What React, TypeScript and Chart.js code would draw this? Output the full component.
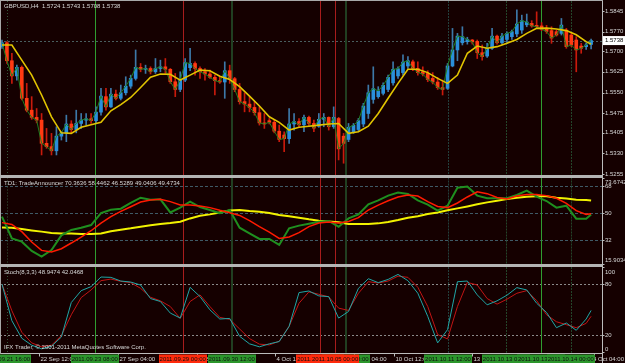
import React, { useEffect, useRef } from 'react';
import { Chart, registerables } from 'chart.js';

Chart.register(...registerables);

// ---------- price data (GBPUSD H4), one value per bar ----------
const OPEN = [
  1.5716, 1.5730, 1.5665, 1.5610, 1.5641, 1.5529, 1.5486, 1.5460, 1.5450, 1.5366,
  1.5354, 1.5339, 1.5392, 1.5404, 1.5436, 1.5416, 1.5438, 1.5450, 1.5455, 1.5448,
  1.5479, 1.5535, 1.5498, 1.5544, 1.5529, 1.5549, 1.5573, 1.5601, 1.5641, 1.5634,
  1.5637, 1.5625, 1.5637, 1.5643, 1.5634, 1.5589, 1.5561, 1.5595, 1.5640, 1.5655,
  1.5637, 1.5625, 1.5617, 1.5605, 1.5593, 1.5588, 1.5629, 1.5600, 1.5561, 1.5517,
  1.5508, 1.5496, 1.5477, 1.5440, 1.5448, 1.5442, 1.5410, 1.5396, 1.5383, 1.5436,
  1.5445, 1.5433, 1.5460, 1.5438, 1.5428, 1.5453, 1.5460, 1.5426, 1.5456, 1.5392,
  1.5380, 1.5408, 1.5416, 1.5436, 1.5474, 1.5525, 1.5535, 1.5547, 1.5561, 1.5585,
  1.5610, 1.5622, 1.5646, 1.5661, 1.5637, 1.5625, 1.5619, 1.5601, 1.5588, 1.5568,
  1.5565, 1.5646, 1.5704, 1.5730, 1.5734, 1.5740, 1.5735, 1.5694, 1.5682, 1.5710,
  1.5754, 1.5730, 1.5742, 1.5752, 1.5762, 1.5776, 1.5795, 1.5800, 1.5793, 1.5791,
  1.5781, 1.5774, 1.5770, 1.5764, 1.5776, 1.5758, 1.5740, 1.5718, 1.5716, 1.5724,
];
const HIGH = [
  1.5740, 1.5734, 1.5692, 1.5649, 1.5646, 1.5583, 1.5535, 1.5492, 1.5474, 1.5420,
  1.5402, 1.5426, 1.5408, 1.5468, 1.5448, 1.5486, 1.5474, 1.5474, 1.5474, 1.5498,
  1.5565, 1.5565, 1.5565, 1.5559, 1.5577, 1.5607, 1.5613, 1.5704, 1.5655, 1.5649,
  1.5643, 1.5673, 1.5667, 1.5673, 1.5637, 1.5619, 1.5625, 1.5673, 1.5710, 1.5661,
  1.5643, 1.5637, 1.5631, 1.5613, 1.5607, 1.5661, 1.5649, 1.5605, 1.5583, 1.5549,
  1.5535, 1.5517, 1.5498, 1.5474, 1.5456, 1.5450, 1.5432, 1.5408, 1.5492, 1.5474,
  1.5456, 1.5468, 1.5465, 1.5450, 1.5474, 1.5474, 1.5462, 1.5498, 1.5460, 1.5402,
  1.5438, 1.5438, 1.5456, 1.5511, 1.5577, 1.5643, 1.5571, 1.5585, 1.5613, 1.5661,
  1.5643, 1.5686, 1.5680, 1.5667, 1.5661, 1.5643, 1.5629, 1.5622, 1.5605, 1.5595,
  1.5655, 1.5782, 1.5764, 1.5788, 1.5750, 1.5742, 1.5740, 1.5722, 1.5728, 1.5782,
  1.5758, 1.5764, 1.5770, 1.5776, 1.5849, 1.5830, 1.5834, 1.5810, 1.5842, 1.5803,
  1.5793, 1.5788, 1.5776, 1.5818, 1.5782, 1.5764, 1.5752, 1.5728, 1.5730, 1.5743,
];
const LOW = [
  1.5710, 1.5655, 1.5583, 1.5595, 1.5523, 1.5480, 1.5453, 1.5440, 1.5324, 1.5348,
  1.5324, 1.5324, 1.5378, 1.5372, 1.5404, 1.5404, 1.5420, 1.5432, 1.5438, 1.5438,
  1.5468, 1.5486, 1.5496, 1.5523, 1.5523, 1.5541, 1.5565, 1.5595, 1.5625, 1.5619,
  1.5617, 1.5619, 1.5625, 1.5619, 1.5583, 1.5535, 1.5553, 1.5589, 1.5629, 1.5613,
  1.5601, 1.5595, 1.5601, 1.5541, 1.5583, 1.5529, 1.5583, 1.5553, 1.5508, 1.5480,
  1.5480, 1.5468, 1.5432, 1.5420, 1.5436, 1.5404, 1.5372, 1.5336, 1.5366, 1.5414,
  1.5426, 1.5408, 1.5428, 1.5408, 1.5424, 1.5426, 1.5414, 1.5420, 1.5306, 1.5294,
  1.5372, 1.5402, 1.5408, 1.5426, 1.5456, 1.5511, 1.5529, 1.5541, 1.5553, 1.5577,
  1.5601, 1.5613, 1.5637, 1.5629, 1.5613, 1.5610, 1.5589, 1.5581, 1.5561, 1.5541,
  1.5561, 1.5643, 1.5665, 1.5722, 1.5725, 1.5725, 1.5673, 1.5667, 1.5677, 1.5706,
  1.5725, 1.5725, 1.5728, 1.5742, 1.5752, 1.5764, 1.5788, 1.5786, 1.5782, 1.5774,
  1.5764, 1.5728, 1.5754, 1.5758, 1.5710, 1.5716, 1.5625, 1.5692, 1.5706, 1.5708,
];
const CLOSE = [
  1.5730, 1.5665, 1.5610, 1.5641, 1.5529, 1.5486, 1.5460, 1.5450, 1.5366, 1.5354,
  1.5339, 1.5392, 1.5404, 1.5436, 1.5416, 1.5438, 1.5450, 1.5455, 1.5448, 1.5479,
  1.5537, 1.5498, 1.5544, 1.5529, 1.5549, 1.5573, 1.5601, 1.5641, 1.5634, 1.5637,
  1.5625, 1.5637, 1.5643, 1.5634, 1.5589, 1.5561, 1.5595, 1.5658, 1.5655, 1.5637,
  1.5625, 1.5617, 1.5605, 1.5593, 1.5588, 1.5629, 1.5600, 1.5561, 1.5517, 1.5508,
  1.5496, 1.5477, 1.5440, 1.5436, 1.5442, 1.5410, 1.5380, 1.5383, 1.5436, 1.5445,
  1.5433, 1.5460, 1.5438, 1.5421, 1.5453, 1.5460, 1.5426, 1.5460, 1.5346, 1.5366,
  1.5424, 1.5431, 1.5448, 1.5501, 1.5549, 1.5564, 1.5556, 1.5576, 1.5605, 1.5634,
  1.5636, 1.5660, 1.5665, 1.5637, 1.5622, 1.5617, 1.5597, 1.5588, 1.5568, 1.5561,
  1.5646, 1.5704, 1.5754, 1.5752, 1.5742, 1.5733, 1.5694, 1.5680, 1.5710, 1.5754,
  1.5730, 1.5754, 1.5764, 1.5770, 1.5798, 1.5810, 1.5805, 1.5791, 1.5788, 1.5779,
  1.5771, 1.5747, 1.5758, 1.5794, 1.5716, 1.5722, 1.5704, 1.5710, 1.5722, 1.5738,
];

// ---------- indicator lines, read every second bar ----------
const SAMPLE_X = [
  0, 2, 4, 6, 8, 10, 12, 14, 16, 18, 20, 22, 24, 26, 28, 30, 32, 34, 36, 38,
  40, 42, 44, 46, 48, 50, 52, 54, 56, 58, 60, 62, 64, 66, 68, 70, 72, 74, 76, 78,
  80, 82, 84, 86, 88, 90, 92, 94, 96, 98, 100, 102, 104, 106, 108, 110, 112, 114, 116, 118, 119,
];
const MA = [
  1.5722, 1.5722, 1.5667, 1.5613, 1.5541, 1.5462, 1.5404, 1.5402, 1.5424, 1.5433,
  1.5442, 1.5484, 1.5506, 1.5532, 1.5568, 1.5605, 1.5617, 1.5616, 1.5595, 1.5613,
  1.5631, 1.5629, 1.5609, 1.5597, 1.5571, 1.5537, 1.5501, 1.5462, 1.5442, 1.5414,
  1.5424, 1.5428, 1.5432, 1.5436, 1.5438, 1.5402, 1.5408, 1.5428, 1.5474, 1.5529,
  1.5583, 1.5634, 1.5634, 1.5622, 1.5601, 1.5583, 1.5613, 1.5692, 1.5718, 1.5710,
  1.5716, 1.5728, 1.5742, 1.5764, 1.5782, 1.5783, 1.5780, 1.5774, 1.5759, 1.5734, 1.5725,
];
const TD_GREEN = [
  47.6, 33.1, 30.9, 24.7, 20.9, 25.3, 35.1, 38.7, 40.2, 42.0,
  50.0, 52.2, 52.9, 56.7, 60.2, 58.9, 59.1, 50.4, 53.6, 57.6,
  54.0, 52.0, 49.8, 52.0, 40.2, 36.4, 32.7, 32.7, 28.7, 39.8,
  41.6, 42.9, 44.2, 44.7, 40.9, 46.4, 49.1, 55.8, 58.4, 61.6,
  63.6, 62.7, 58.4, 55.6, 51.6, 54.9, 66.9, 67.6, 61.6, 59.8,
  59.8, 59.8, 62.0, 64.9, 60.9, 58.0, 53.6, 54.9, 46.2, 46.2, 49.0,
];
const TD_RED = [
  43.6, 42.4, 37.6, 30.7, 25.1, 24.0, 26.2, 30.0, 34.0, 38.2,
  43.3, 47.6, 51.1, 54.2, 57.3, 58.7, 59.1, 57.6, 55.3, 55.3,
  54.7, 53.6, 51.8, 50.2, 48.4, 44.9, 40.9, 37.3, 33.1, 34.0,
  36.9, 40.9, 43.3, 44.0, 43.3, 44.4, 46.9, 52.0, 55.3, 58.2,
  60.7, 62.0, 61.3, 57.6, 54.4, 53.6, 56.7, 60.7, 64.2, 62.9,
  60.4, 59.3, 61.3, 62.4, 62.4, 61.6, 59.8, 56.4, 51.6, 49.1, 49.5,
];
const TD_YELLOW = [
  40.4, 40.2, 39.3, 38.4, 37.6, 36.7, 36.4, 36.4, 36.0, 36.0,
  36.4, 37.8, 38.9, 39.8, 40.9, 41.8, 42.7, 43.3, 44.2, 46.4,
  48.2, 49.1, 50.4, 51.6, 52.0, 51.3, 50.9, 50.0, 48.7, 47.8,
  46.9, 45.8, 44.9, 44.4, 43.8, 42.7, 42.7, 42.7, 43.1, 44.0,
  45.3, 46.9, 47.8, 49.3, 50.4, 51.8, 53.1, 54.4, 55.8, 57.1,
  58.2, 59.3, 60.2, 60.9, 61.1, 61.1, 60.2, 59.6, 58.9, 58.7, 58.4,
];
const ST_MAIN = [
  80.0, 36.8, 16.2, 8.0, 3.7, 6.8, 17.7, 58.2, 72.2, 76.9,
  88.2, 87.8, 83.5, 82.3, 78.8, 62.9, 59.4, 45.8, 39.9, 76.1,
  65.2, 49.6, 38.8, 39.5, 18.5, 9.6, 6.1, 9.6, 12.3, 30.2,
  69.9, 71.8, 66.0, 65.2, 39.9, 47.7, 74.9, 86.2, 81.6, 85.4,
  91.3, 83.9, 69.1, 41.9, 10.7, 26.3, 82.7, 83.5, 67.2, 55.5,
  60.2, 66.8, 75.7, 73.0, 57.4, 46.5, 28.6, 34.1, 25.5, 38.8, 48.9,
];
const ST_SIGNAL = [
  80.0, 48.5, 23.2, 10.7, 6.1, 8.0, 19.3, 43.8, 64.0, 73.0,
  83.9, 85.8, 83.1, 81.6, 74.9, 64.4, 60.2, 53.5, 39.5, 59.4,
  67.2, 53.5, 40.7, 38.4, 27.1, 15.8, 9.2, 8.4, 12.7, 30.2,
  57.4, 70.7, 67.9, 64.8, 51.6, 48.9, 69.1, 82.7, 81.2, 83.5,
  89.3, 87.8, 76.1, 53.5, 20.5, 15.4, 53.5, 81.9, 78.8, 62.9,
  56.3, 62.1, 69.1, 72.2, 60.5, 43.8, 35.6, 32.1, 28.6, 33.7, 42.0,
];

// ---------- axes ----------
const PRICE_TICKS = [1.5845, 1.577, 1.57, 1.5625, 1.555, 1.5475, 1.5405, 1.533, 1.5255];
const TD_TICKS = [73.6742, 68, 50, 32, 15.9034];
const TD_LEVELS = [68, 50, 32];
const ST_TICKS = [100, 80, 20, 0];
const ST_LEVELS = [80, 20];
const TIME_POS = [7.46, 23.4, 39.3, 55.2, 71.2, 79.2, 95.0, 119.6];
const TIME_LABELS = ['22 Sep 12:00', '27 Sep 04:00', '29 Sep 20:00', '4 Oct 12:00', '7 Oct 04:00', '10 Oct 12:00', '13 Oct 04:00', '14 Oct 04:00'];

// vertical line objects (bar position, kind, time)
const VLINE_POS = [1.0, 18.75, 36.5, 46.4, 69.4, 64.3, 67.3, 90.1, 101.8, 108.9, 114.9];
const VLINE_KIND = ['dotted', 'green', 'red', 'dark', 'dark', 'red', 'red', 'slate', 'darkdot', 'green', 'darkdot'];
const VLINE_TIME = [
  '2011.09.21 16:00', '2011.09.23 08:00', '2011.09.29 00:00', '2011.09.30 12:00', '2011.10.05 08:00',
  '2011.10.04 20:00', '2011.10.05 00:00', '2011.10.11 12:00', '2011.10.13 04:00', '2011.10.13 16:00', '2011.10.14 00:00',
];

const X_MIN = -0.4;
const X_MAX = 121.2;
const BG = '#150000';
const TEXT = '#d8d8d8';
const AXIS = '#bcbcbc';
const FONT = '6px "Liberation Sans", Arial, sans-serif';

const VSTYLE: any = {
  dotted: { color: '#34563a', width: 1, dash: [1, 2], box: '#2c962c' },
  green: { color: '#2f9d2f', width: 1, dash: [], box: '#2c962c' },
  red: { color: '#a81c1c', width: 1, dash: [], box: '#ff2a0c' },
  dark: { color: '#213f21', width: 2, dash: [], box: '#2c962c' },
  darkdot: { color: '#24452a', width: 1, dash: [2, 1], box: '#2c962c' },
  slate: { color: '#23403d', width: 1, dash: [2, 1], box: '#2c962c' },
};

function drawVLines(chart: any) {
  const { ctx, chartArea: a, scales } = chart;
  const x = scales.x;
  ctx.save();
  VLINE_POS.forEach((p, k) => {
    const st = VSTYLE[VLINE_KIND[k]];
    const px = Math.round(x.getPixelForValue(p)) + (st.width % 2 ? 0.5 : 0);
    ctx.strokeStyle = st.color;
    ctx.lineWidth = st.width;
    ctx.setLineDash(st.dash);
    ctx.beginPath();
    ctx.moveTo(px, a.top);
    ctx.lineTo(px, a.bottom);
    ctx.stroke();
  });
  ctx.restore();
}

function panePlugin(cfg: any) {
  return {
    id: 'pane',
    beforeDatasetsDraw(chart: any) {
      const { ctx, chartArea: a, scales } = chart;
      const y = scales.y;
      ctx.save();
      ctx.beginPath();
      ctx.rect(a.left, a.top, a.right - a.left, a.bottom - a.top);
      ctx.clip();
      ctx.lineWidth = 1;
      ctx.setLineDash(cfg.levelDash);
      ctx.strokeStyle = cfg.levelColor;
      const lines = cfg.levels.slice();
      if (cfg.bid !== undefined) lines.push(cfg.bid);
      lines.forEach((v: number) => {
        const py = Math.round(y.getPixelForValue(v)) + 0.5;
        ctx.beginPath();
        ctx.moveTo(a.left, py);
        ctx.lineTo(a.right, py);
        ctx.stroke();
      });
      ctx.restore();
      drawVLines(chart);
    },
    afterDraw(chart: any) {
      const { ctx, chartArea: a, scales } = chart;
      const y = scales.y;
      const x = scales.x;
      ctx.save();
      const ax = Math.round(a.right) + 0.5;
      ctx.strokeStyle = AXIS;
      ctx.lineWidth = 1;
      ctx.setLineDash([]);
      ctx.beginPath();
      ctx.moveTo(ax, 0);
      ctx.lineTo(ax, chart.height);
      ctx.stroke();
      ctx.font = FONT;
      ctx.textBaseline = 'middle';
      ctx.textAlign = 'left';
      cfg.ticks.forEach((v: number, k: number) => {
        let py = y.getPixelForValue(v);
        ctx.strokeStyle = AXIS;
        ctx.beginPath();
        ctx.moveTo(ax, Math.round(py) + 0.5);
        ctx.lineTo(ax + 2, Math.round(py) + 0.5);
        ctx.stroke();
        if (cfg.clamp) py = Math.min(Math.max(py, a.top + 5), a.bottom - 4);
        ctx.fillStyle = TEXT;
        ctx.fillText(cfg.tickText[k], ax + 2.5, py);
      });
      if (cfg.bid !== undefined) {
        const py = y.getPixelForValue(cfg.bid);
        ctx.fillStyle = '#ffffff';
        ctx.fillRect(ax + 0.5, py - 4.5, chart.width - ax, 9);
        ctx.fillStyle = '#000000';
        ctx.fillText(cfg.bid.toFixed(4), ax + 2.5, py);
      }
      ctx.fillStyle = TEXT;
      ctx.fillText(cfg.title, 4, a.top + cfg.titleDy);
      if (cfg.footer) ctx.fillText(cfg.footer, 4, a.bottom - 6);
      if (cfg.timeAxis) {
        const base = Math.round(a.bottom) + 0.5;
        ctx.strokeStyle = AXIS;
        ctx.beginPath();
        ctx.moveTo(0, base);
        ctx.lineTo(ax, base);
        ctx.stroke();
        TIME_POS.forEach((p, k) => {
          const px = Math.round(x.getPixelForValue(p)) + 0.5;
          ctx.beginPath();
          ctx.moveTo(px, base);
          ctx.lineTo(px, base + 3);
          ctx.stroke();
          const w = ctx.measureText(TIME_LABELS[k]).width;
          let tx = px + 1;
          if (tx + w > chart.width - 1) tx = chart.width - 1 - w;
          ctx.fillStyle = TEXT;
          ctx.fillText(TIME_LABELS[k], tx, base + 5.5);
        });
        const order = VLINE_POS.map((_, k) => k).sort((i, j) => (VLINE_KIND[i] === 'red' ? 1 : 0) - (VLINE_KIND[j] === 'red' ? 1 : 0));
        ctx.textAlign = 'center';
        order.forEach((k) => {
          const st = VSTYLE[VLINE_KIND[k]];
          const px = x.getPixelForValue(VLINE_POS[k]);
          ctx.fillStyle = st.box;
          ctx.fillRect(Math.round(px - 24), base + 1, 48, 8.5);
          ctx.fillStyle = '#101010';
          ctx.fillText(VLINE_TIME[k], px, base + 5.5);
        });
      }
      ctx.restore();
    },
  };
}

const baseOptions = (min: number, max: number, padding: any) => ({
  responsive: false,
  animation: false as const,
  devicePixelRatio: 1,
  events: [],
  layout: { padding },
  plugins: { legend: { display: false }, tooltip: { enabled: false } },
  scales: {
    x: { type: 'linear' as const, min: X_MIN, max: X_MAX, display: false, offset: false, grid: { offset: false } },
    y: { type: 'linear' as const, min, max, display: false },
  },
});

const pts = (xs: number[], ys: number[]) => xs.map((x, k) => ({ x, y: ys[k] }));

export default function App() {
  const mainRef = useRef<HTMLCanvasElement>(null);
  const tdRef = useRef<HTMLCanvasElement>(null);
  const stRef = useRef<HTMLCanvasElement>(null);

  useEffect(() => {
    const bull = OPEN.map((o, i) => CLOSE[i] >= o);
    const main = new Chart(mainRef.current as HTMLCanvasElement, {
      type: 'bar',
      data: {
        datasets: [
          { type: 'line', data: pts(SAMPLE_X, MA), borderColor: '#e2c400', borderWidth: 1.6, pointRadius: 0, order: 0 },
          { type: 'line', data: CLOSE.map((c, i) => ({ x: i, y: c })), borderColor: '#1f7f1f', borderWidth: 1, pointRadius: 0, order: 1 },
          {
            type: 'bar',
            data: OPEN.map((o, i) => ({ x: i, y: [o, CLOSE[i]] })),
            backgroundColor: bull.map((b) => (b ? '#2a8fda' : '#ff3a12')),
            barThickness: 3,
            minBarLength: 1,
            grouped: false,
            order: 2,
          },
          {
            type: 'bar',
            data: LOW.map((l, i) => ({ x: i, y: [l, HIGH[i]] })),
            backgroundColor: bull.map((b) => (b ? '#3d78a8' : '#c81a0c')),
            barThickness: 1,
            grouped: false,
            order: 3,
          },
        ] as any,
      },
      options: baseOptions(1.52478, 1.58812, { left: 0, right: 23, top: 1, bottom: 0 }) as any,
      plugins: [
        panePlugin({
          levels: [],
          levelColor: '#4a5e5e',
          levelDash: [2, 2],
          ticks: PRICE_TICKS,
          tickText: PRICE_TICKS.map((v) => v.toFixed(4)),
          clamp: false,
          bid: CLOSE[CLOSE.length - 1],
          title: `GBPUSD,H4  ${OPEN[119].toFixed(4)} ${HIGH[119].toFixed(4)} ${LOW[119].toFixed(4)} ${CLOSE[119].toFixed(4)}`,
          titleDy: 5,
        }),
      ],
    });

    const td = new Chart(tdRef.current as HTMLCanvasElement, {
      type: 'line',
      data: {
        datasets: [
          { data: pts(SAMPLE_X, TD_RED), borderColor: '#ff1a00', borderWidth: 1.5, pointRadius: 0, order: 0 },
          { data: pts(SAMPLE_X, TD_GREEN), borderColor: '#1f8f1f', borderWidth: 2, pointRadius: 0, order: 1 },
          { data: pts(SAMPLE_X, TD_YELLOW), borderColor: '#f2f200', borderWidth: 2, pointRadius: 0, order: 2 },
        ],
      },
      options: baseOptions(15.9034, 73.6742, { left: 0, right: 23, top: 1.5, bottom: 1.83 }) as any,
      plugins: [
        panePlugin({
          levels: TD_LEVELS,
          levelColor: '#3f5a66',
          levelDash: [3, 2],
          ticks: TD_TICKS,
          tickText: TD_TICKS.map((v) => (Number.isInteger(v) ? String(v) : v.toFixed(4))),
          clamp: true,
          title: 'TD1: TradeAnnouncer 70.3636 58.4462 46.5289 49.0406 49.4734',
          titleDy: 5.5,
        }),
      ],
    });

    const st = new Chart(stRef.current as HTMLCanvasElement, {
      type: 'line',
      data: {
        datasets: [
          { data: pts(SAMPLE_X, ST_SIGNAL), borderColor: '#c21414', borderWidth: 1, pointRadius: 0, order: 1 },
          { data: pts(SAMPLE_X, ST_MAIN), borderColor: '#20a6a6', borderWidth: 1, pointRadius: 0, order: 0 },
        ],
      },
      options: baseOptions(-1, 100, { left: 0, right: 23, top: 1, bottom: 10.15 }) as any,
      plugins: [
        panePlugin({
          levels: ST_LEVELS,
          levelColor: '#8a8a8a',
          levelDash: [2, 2],
          ticks: ST_TICKS,
          tickText: ST_TICKS.map((v) => String(v)),
          clamp: true,
          title: `Stoch(8,3,3) 48.9474 42.0468`,
          titleDy: 5,
          footer: 'IFX Trader, \u00a9 2001-2011 MetaQuotes Software Corp.',
          timeAxis: true,
        }),
      ],
    });

    return () => {
      main.destroy();
      td.destroy();
      st.destroy();
    };
  }, []);

  const abs = (top: number, height: number): React.CSSProperties => ({ position: 'absolute', left: 0, top, width: 625, height });

  return (
    <div style={{ position: 'fixed', left: 0, top: 0, width: 625, height: 363, background: BG, overflow: 'hidden' }}>
      <canvas ref={mainRef} width={625} height={176} style={abs(0, 176)} />
      <canvas ref={tdRef} width={625} height={90} style={abs(176, 90)} />
      <canvas ref={stRef} width={625} height={97} style={abs(266, 97)} />
      <div style={{ position: 'absolute', left: 0, top: 0, width: 603, height: 1, background: '#a8a8a8' }} />
      <div style={{ position: 'absolute', left: 0, top: 0, width: 1, height: 354, background: '#a8a8a8' }} />
      <div style={{ position: 'absolute', left: 0, top: 175, width: 602, height: 3, background: '#b4b4b4' }} />
      <div style={{ position: 'absolute', left: 0, top: 264, width: 602, height: 3, background: '#b4b4b4' }} />
    </div>
  );
}
